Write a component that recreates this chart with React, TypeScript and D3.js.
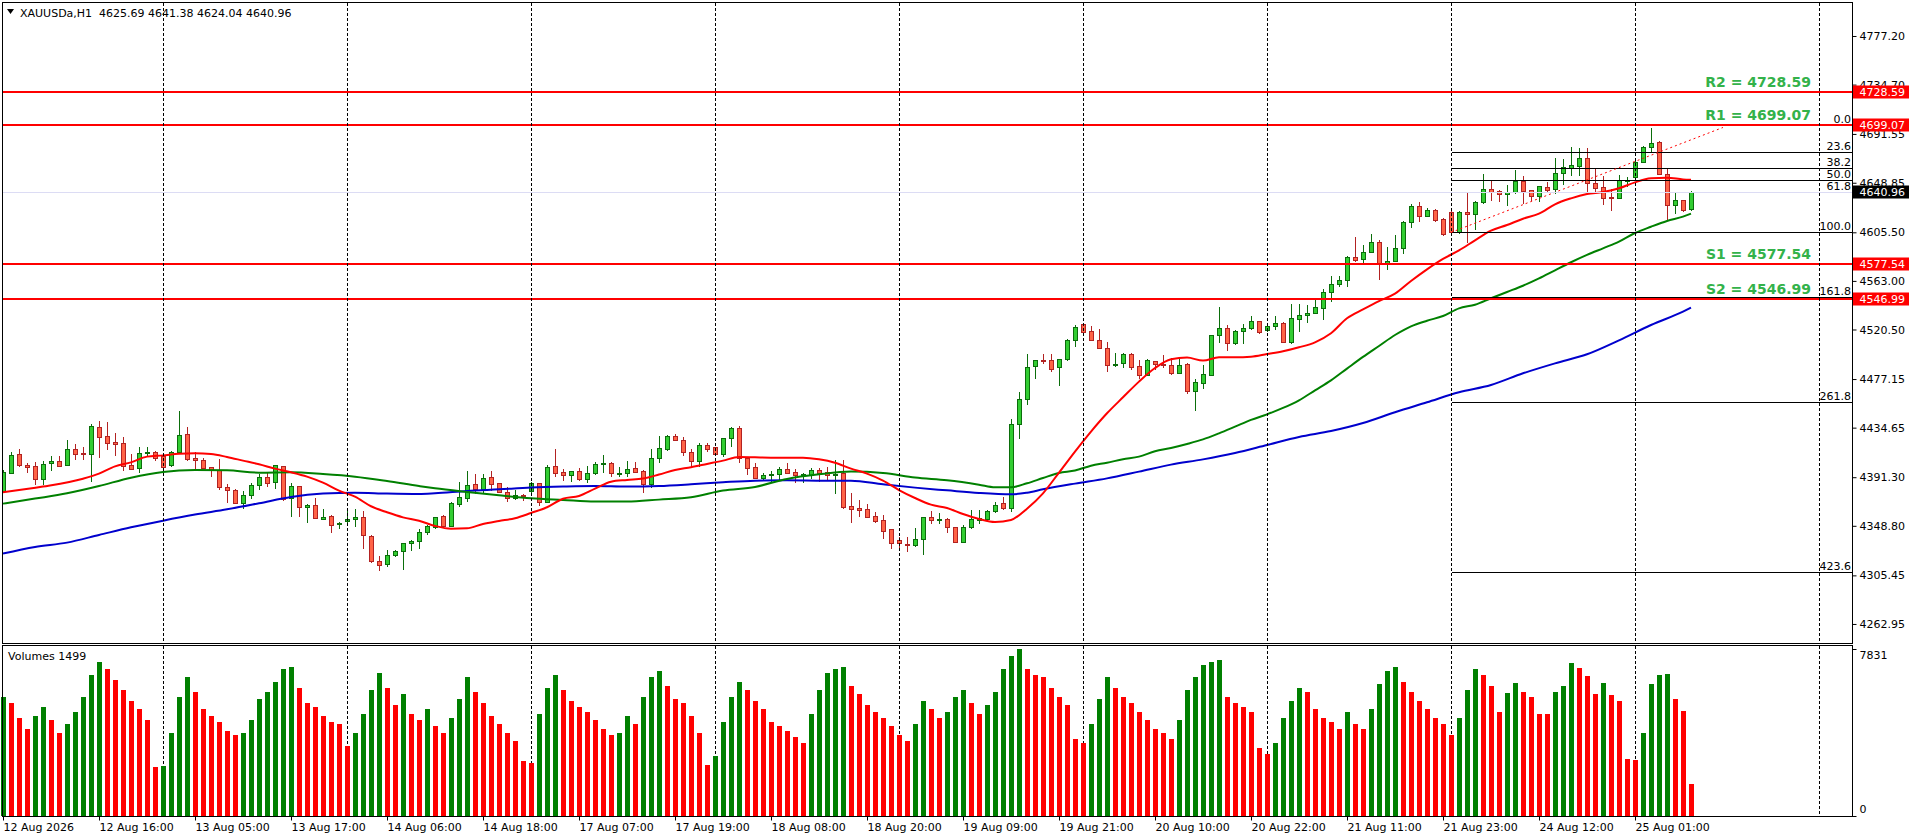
import { useRef, useEffect } from 'react';
import * as d3 from 'd3';

// XAUUSDa H1 bars, oldest first
const opens = [
  4379.6, 4395.3, 4411.6, 4402.0, 4401.1, 4390.0, 4403.5, 4405.5, 4401.7, 4416.0,
  4412.8, 4411.9, 4434.9, 4427.4, 4422.1, 4421.0, 4402.0, 4399.1, 4412.2, 4413.7,
  4409.9, 4401.7, 4413.7, 4428.8, 4407.8, 4406.1, 4400.0, 4397.3, 4382.5, 4380.1,
  4369.1, 4375.5, 4384.2, 4391.2, 4386.8, 4400.8, 4372.9, 4383.3, 4365.0, 4366.7,
  4355.1, 4357.4, 4350.1, 4352.7, 4354.5, 4356.2, 4339.9, 4317.8, 4315.1, 4323.0,
  4326.5, 4333.5, 4335.2, 4343.1, 4348.1, 4357.1, 4349.0, 4368.2, 4373.4, 4385.1,
  4381.3, 4391.2, 4386.0, 4378.1, 4372.9, 4375.8, 4379.6, 4386.0, 4369.9, 4400.8,
  4395.9, 4393.6, 4396.8, 4390.1, 4394.7, 4402.6, 4403.8, 4394.7, 4395.3, 4399.1,
  4396.8, 4385.1, 4408.4, 4416.3, 4427.1, 4423.6, 4413.1, 4405.8, 4419.5, 4417.5,
  4411.3, 4425.3, 4434.1, 4407.8, 4400.0, 4390.9, 4393.0, 4393.8, 4398.2, 4395.9,
  4393.3, 4393.0, 4397.3, 4395.6, 4393.0, 4394.7, 4366.1, 4364.4, 4363.2, 4357.4,
  4353.9, 4345.7, 4336.4, 4332.9, 4332.3, 4337.6, 4356.2, 4354.5, 4355.1, 4347.5,
  4335.0, 4347.5, 4353.9, 4355.1, 4361.5, 4368.5, 4364.1, 4437.6, 4459.4, 4488.3,
  4494.1, 4493.5, 4487.4, 4494.4, 4511.0, 4525.3, 4518.9, 4511.0, 4504.0, 4489.2,
  4490.9, 4499.1, 4488.6, 4481.0, 4492.7, 4490.0, 4489.5, 4482.2, 4490.3, 4466.4,
  4474.0, 4481.0, 4515.4, 4521.5, 4509.0, 4518.9, 4521.5, 4527.7, 4519.8, 4523.3,
  4525.9, 4509.9, 4530.0, 4533.0, 4535.2, 4539.6, 4553.0, 4560.3, 4563.5, 4583.6,
  4581.9, 4588.0, 4597.3, 4578.1, 4580.4, 4591.5, 4614.2, 4628.5, 4620.1, 4624.7,
  4617.1, 4623.6, 4605.5, 4623.6, 4621.2, 4631.7, 4643.4, 4641.3, 4638.7, 4640.5,
  4650.4, 4642.2, 4637.0, 4645.1, 4643.4, 4657.1, 4661.5, 4663.8, 4670.8, 4648.4,
  4645.1, 4636.7, 4635.8, 4650.7, 4653.9, 4666.7, 4679.8, 4684.2, 4656.8, 4629.1,
  4633.5, 4625.69,
];

const highs = [
  4397.5, 4413.7, 4415.7, 4404.0, 4404.6, 4405.8, 4409.9, 4409.9, 4423.9, 4420.4,
  4418.0, 4437.9, 4440.5, 4439.6, 4430.3, 4426.5, 4411.6, 4418.0, 4417.5, 4414.5,
  4411.6, 4414.5, 4449.2, 4434.9, 4413.7, 4407.8, 4400.5, 4407.0, 4385.4, 4380.7,
  4379.6, 4386.6, 4394.1, 4395.3, 4402.3, 4401.1, 4386.6, 4383.6, 4367.9, 4372.9,
  4363.5, 4358.3, 4351.8, 4362.1, 4363.2, 4361.5, 4340.5, 4322.4, 4327.7, 4327.7,
  4334.1, 4336.4, 4345.7, 4349.8, 4356.8, 4358.0, 4369.7, 4387.1, 4396.8, 4393.8,
  4394.1, 4396.8, 4386.6, 4382.5, 4380.1, 4376.6, 4387.1, 4386.6, 4402.0, 4416.0,
  4398.2, 4397.1, 4399.1, 4401.1, 4404.9, 4410.5, 4404.9, 4400.0, 4405.5, 4404.6,
  4397.6, 4416.0, 4427.4, 4428.3, 4429.1, 4426.2, 4415.7, 4421.5, 4421.0, 4418.0,
  4425.9, 4435.5, 4436.1, 4409.3, 4403.5, 4394.7, 4397.1, 4400.6, 4403.5, 4398.2,
  4395.3, 4399.1, 4399.1, 4400.0, 4406.4, 4406.4, 4377.2, 4371.4, 4367.9, 4360.9,
  4358.3, 4346.3, 4338.7, 4338.7, 4346.6, 4356.8, 4362.1, 4359.7, 4355.4, 4348.1,
  4349.2, 4362.6, 4362.6, 4362.6, 4369.6, 4373.7, 4441.9, 4465.6, 4499.1, 4493.8,
  4499.1, 4499.1, 4495.0, 4511.9, 4524.5, 4525.9, 4523.6, 4520.7, 4509.6, 4500.3,
  4500.3, 4499.7, 4493.8, 4495.0, 4493.3, 4498.2, 4495.3, 4495.0, 4490.9, 4476.9,
  4489.5, 4516.0, 4540.5, 4524.5, 4520.1, 4525.3, 4532.3, 4528.2, 4524.5, 4532.3,
  4526.8, 4542.5, 4542.5, 4541.9, 4547.8, 4555.9, 4567.0, 4567.0, 4585.1, 4601.1,
  4594.4, 4604.3, 4598.5, 4592.7, 4603.2, 4615.4, 4630.0, 4631.7, 4626.5, 4625.9,
  4617.7, 4624.2, 4624.2, 4640.5, 4632.9, 4656.2, 4651.0, 4642.5, 4646.9, 4660.0,
  4654.5, 4642.5, 4646.3, 4649.8, 4670.2, 4669.6, 4679.8, 4679.0, 4679.3, 4662.1,
  4654.5, 4643.4, 4655.6, 4653.9, 4670.2, 4681.3, 4697.0, 4685.4, 4660.9, 4640.5,
  4634.1, 4641.38,
];

const lows = [
  4377.5, 4394.1, 4400.0, 4394.7, 4384.8, 4384.8, 4397.0, 4400.5, 4401.1, 4406.4,
  4406.4, 4387.4, 4407.8, 4415.1, 4409.9, 4396.5, 4397.6, 4395.3, 4409.3, 4405.8,
  4396.2, 4400.5, 4411.6, 4405.8, 4398.2, 4398.2, 4391.2, 4380.1, 4368.5, 4368.5,
  4363.2, 4372.6, 4380.1, 4382.5, 4380.7, 4370.8, 4356.8, 4356.8, 4351.0, 4355.1,
  4353.9, 4342.8, 4346.3, 4351.6, 4348.1, 4328.8, 4316.0, 4309.6, 4313.1, 4321.8,
  4310.2, 4327.1, 4328.8, 4341.1, 4345.7, 4347.5, 4348.1, 4365.6, 4369.9, 4376.6,
  4377.2, 4379.6, 4377.2, 4369.7, 4371.4, 4370.8, 4377.2, 4366.4, 4368.5, 4391.8,
  4388.3, 4387.4, 4388.3, 4386.6, 4393.0, 4395.3, 4391.8, 4391.8, 4391.8, 4394.7,
  4377.2, 4381.6, 4403.5, 4414.5, 4423.0, 4410.2, 4399.1, 4400.6, 4413.7, 4410.2,
  4409.3, 4418.0, 4403.5, 4393.3, 4390.3, 4388.9, 4386.6, 4388.9, 4394.1, 4386.0,
  4386.6, 4389.5, 4387.4, 4388.9, 4376.6, 4363.2, 4351.0, 4356.8, 4355.4, 4351.6,
  4337.6, 4328.3, 4327.1, 4326.2, 4330.6, 4323.3, 4350.4, 4350.4, 4342.2, 4334.1,
  4334.1, 4345.7, 4350.4, 4354.5, 4359.7, 4362.6, 4361.2, 4424.5, 4454.8, 4477.5,
  4490.3, 4483.6, 4471.4, 4493.3, 4504.9, 4515.7, 4510.7, 4503.7, 4483.6, 4488.0,
  4486.8, 4485.1, 4476.9, 4480.4, 4485.1, 4486.6, 4481.0, 4481.6, 4464.1, 4449.5,
  4468.8, 4479.8, 4509.0, 4502.0, 4507.2, 4507.8, 4520.1, 4516.6, 4518.6, 4520.1,
  4509.0, 4507.5, 4518.0, 4525.9, 4533.8, 4529.1, 4544.9, 4558.0, 4558.0, 4579.8,
  4577.5, 4587.1, 4563.5, 4572.8, 4579.3, 4586.8, 4609.0, 4614.8, 4618.9, 4614.2,
  4602.6, 4604.6, 4604.3, 4595.9, 4607.5, 4630.5, 4632.9, 4632.3, 4628.8, 4639.3,
  4630.0, 4632.9, 4632.3, 4640.5, 4638.7, 4646.9, 4655.1, 4655.1, 4640.5, 4640.5,
  4629.4, 4624.2, 4634.6, 4645.4, 4652.1, 4666.1, 4674.6, 4655.6, 4615.4, 4621.2,
  4622.9, 4624.04,
];

const closes = [
  4396.2, 4410.7, 4401.7, 4400.5, 4390.0, 4402.9, 4405.5, 4401.4, 4415.7, 4411.9,
  4412.2, 4436.1, 4426.8, 4421.5, 4420.1, 4401.1, 4398.8, 4412.2, 4413.4, 4407.8,
  4400.5, 4413.7, 4427.9, 4407.5, 4406.7, 4399.7, 4397.3, 4382.5, 4379.8, 4369.1,
  4375.5, 4384.2, 4391.2, 4386.6, 4401.7, 4372.6, 4383.3, 4365.0, 4366.7, 4355.4,
  4356.5, 4349.2, 4351.3, 4354.8, 4356.5, 4340.5, 4317.8, 4314.8, 4323.0, 4326.5,
  4333.5, 4335.5, 4343.1, 4348.7, 4356.2, 4349.0, 4368.5, 4373.7, 4384.2, 4381.3,
  4390.9, 4385.7, 4378.1, 4372.9, 4375.5, 4374.9, 4386.0, 4369.9, 4400.0, 4395.3,
  4393.0, 4396.5, 4390.1, 4394.7, 4402.9, 4403.8, 4394.7, 4395.3, 4398.5, 4395.9,
  4385.1, 4407.8, 4416.6, 4427.1, 4423.6, 4413.4, 4405.8, 4419.5, 4415.7, 4411.3,
  4425.3, 4434.1, 4407.8, 4399.1, 4390.9, 4393.0, 4393.8, 4398.2, 4395.3, 4393.0,
  4393.8, 4397.3, 4395.3, 4393.0, 4393.8, 4365.6, 4363.8, 4362.6, 4356.8, 4353.3,
  4344.6, 4333.5, 4333.5, 4332.3, 4337.0, 4356.2, 4353.9, 4355.1, 4348.1, 4335.0,
  4347.5, 4354.5, 4355.4, 4361.5, 4366.7, 4364.4, 4437.6, 4459.4, 4487.4, 4493.5,
  4493.5, 4486.3, 4494.4, 4511.0, 4522.4, 4518.6, 4511.0, 4504.0, 4489.2, 4490.3,
  4499.1, 4488.0, 4481.0, 4493.8, 4490.0, 4489.5, 4482.2, 4489.2, 4466.4, 4474.6,
  4481.6, 4515.4, 4521.5, 4509.0, 4518.9, 4521.5, 4527.7, 4518.6, 4523.3, 4526.2,
  4509.9, 4530.3, 4533.2, 4534.9, 4539.9, 4553.0, 4560.0, 4563.5, 4583.6, 4581.6,
  4588.0, 4596.8, 4578.1, 4580.4, 4591.5, 4614.2, 4628.5, 4620.1, 4624.7, 4616.3,
  4603.7, 4605.5, 4623.6, 4621.2, 4631.7, 4643.1, 4641.1, 4638.7, 4640.5, 4650.4,
  4641.6, 4637.0, 4645.7, 4642.8, 4657.1, 4662.6, 4664.4, 4670.8, 4648.4, 4644.6,
  4635.8, 4635.8, 4651.0, 4651.3, 4666.7, 4679.8, 4683.3, 4656.8, 4629.1, 4633.5,
  4625.3, 4640.96,
];

const volumes = [
  5600, 5300, 4600, 4100, 4700, 5100, 4500, 3900, 4300, 4900,
  5600, 6600, 7200, 6900, 6400, 5900, 5400, 5000, 4500, 2300,
  2350, 3900, 5600, 6500, 5800, 5000, 4700, 4400, 4000, 3800,
  3900, 4500, 5500, 5800, 6300, 6900, 7000, 6000, 5300, 5100,
  4700, 4400, 4300, 3300, 3900, 4800, 5900, 6700, 6000, 5200,
  5700, 4800, 4500, 5000, 4200, 3900, 4600, 5500, 6500, 5800,
  5300, 4700, 4300, 3900, 3500, 2600, 2500, 4800, 6000, 6600,
  5900, 5400, 5100, 4900, 4500, 4100, 3800, 3900, 4700, 4300,
  5600, 6500, 6800, 6100, 5500, 5300, 4700, 3900, 2400, 2800,
  4400, 5600, 6300, 5900, 5400, 5000, 4400, 4200, 4000, 3700,
  3400, 4800, 5900, 6700, 6900, 7000, 6100, 5700, 5200, 4900,
  4600, 4200, 3800, 3500, 4300, 5400, 5000, 4600, 4900, 5600,
  5900, 5300, 4800, 5200, 5800, 6900, 7500, 7831, 6900, 6600,
  6500, 6000, 5600, 5200, 3600, 3400, 4300, 5500, 6500, 6000,
  5600, 5300, 4900, 4500, 4100, 3900, 3600, 4500, 5900, 6500,
  7100, 7200, 7300, 5600, 5300, 5100, 4900, 3200, 2900, 3400,
  4600, 5400, 6000, 5800, 5000, 4600, 4400, 4100, 4900, 4300,
  4100, 5000, 6200, 6800, 7000, 6300, 5800, 5400, 5000, 4600,
  4300, 3800, 4600, 5900, 6900, 6600, 6100, 4860, 5750, 6230,
  5820, 5570, 4760, 4760, 5800, 6090, 7170, 6930, 6560, 5710,
  6230, 5660, 5380, 2690, 2640, 3900, 6180, 6600, 6650, 5500,
  4910, 1499,
];

// moving averages: [bar, price]
const maRed: [number, number][] = [
  [0, 4378.1], [5, 4383.1], [10, 4390.0], [12, 4394.4], [14, 4400.8], [16, 4404.3], [18, 4409.3],
  [20, 4410.4], [22, 4411.9], [24, 4412.2], [26, 4411.6], [28, 4409.0], [30, 4405.8], [32, 4402.6],
  [34, 4398.8], [36, 4395.6], [38, 4391.8], [40, 4386.5], [42, 4379.5], [44, 4374.3], [46, 4365.9],
  [48, 4360.6], [50, 4356.2], [52, 4353.3], [54, 4348.7], [56, 4346.3], [58, 4346.6], [60, 4350.4],
  [62, 4353.0], [64, 4355.4], [66, 4360.0], [68, 4365.0], [70, 4372.5], [72, 4374.9], [74, 4381.3],
  [76, 4387.4], [78, 4388.9], [80, 4390.1], [82, 4393.6], [84, 4397.6], [86, 4400.0], [88, 4402.9],
  [90, 4405.8], [92, 4409.0], [94, 4408.7], [96, 4408.4], [98, 4408.4], [100, 4408.4], [102, 4407.0],
  [104, 4404.0], [106, 4398.8], [108, 4394.4], [110, 4388.3], [112, 4380.1], [114, 4373.1], [116, 4367.3],
  [118, 4364.4], [120, 4359.1], [122, 4354.8], [124, 4352.1], [126, 4353.9], [128, 4363.8], [130, 4377.2],
  [132, 4395.3], [134, 4413.7], [136, 4431.2], [138, 4447.2], [140, 4461.2], [142, 4474.9], [144, 4486.8],
  [146, 4494.4], [148, 4495.9], [150, 4493.3], [152, 4496.2], [154, 4496.2], [156, 4496.7], [158, 4499.0],
  [160, 4501.4], [162, 4504.9], [164, 4509.3], [166, 4517.2], [168, 4530.3], [170, 4538.1], [172, 4545.4],
  [174, 4551.8], [176, 4562.9], [178, 4573.1], [180, 4582.2], [182, 4589.7], [184, 4598.5], [186, 4606.9],
  [188, 4611.9], [190, 4617.4], [192, 4621.8], [194, 4630.0], [196, 4635.2], [198, 4639.0], [200, 4640.8],
  [202, 4644.0], [204, 4649.2], [206, 4652.7], [208, 4653.3], [210, 4651.8], [211, 4651.5],
];

const maGreen: [number, number][] = [
  [0, 4368.2], [4, 4372.6], [8, 4377.2], [12, 4383.6], [16, 4390.9], [20, 4395.9], [24, 4397.6],
  [28, 4397.3], [32, 4395.3], [36, 4395.6], [40, 4394.1], [44, 4391.8], [48, 4388.0], [52, 4383.6],
  [54, 4381.6], [58, 4378.4], [62, 4375.5], [66, 4372.9], [70, 4371.4], [74, 4370.0], [78, 4370.0],
  [82, 4371.7], [86, 4373.7], [90, 4379.6], [94, 4382.8], [98, 4389.8], [102, 4393.8], [106, 4396.2],
  [110, 4395.0], [114, 4391.0], [118, 4388.6], [122, 4384.8], [124, 4382.5], [126, 4382.5], [128, 4386.0],
  [130, 4390.6], [132, 4395.0], [134, 4397.1], [136, 4401.4], [138, 4404.0], [140, 4407.0], [142, 4409.3],
  [144, 4414.0], [146, 4416.9], [148, 4420.4], [150, 4424.4], [152, 4429.7], [154, 4435.5], [156, 4441.4],
  [158, 4446.3], [160, 4451.9], [162, 4458.6], [164, 4467.3], [166, 4476.0], [168, 4486.3], [170, 4496.5],
  [172, 4506.1], [174, 4515.7], [176, 4523.3], [178, 4528.2], [180, 4532.3], [182, 4539.0], [184, 4542.2],
  [186, 4547.8], [188, 4553.3], [190, 4558.8], [192, 4565.2], [194, 4572.3], [196, 4579.3], [198, 4585.7],
  [200, 4591.5], [202, 4597.3], [204, 4604.9], [206, 4610.4], [208, 4615.4], [210, 4619.2], [211, 4621.8],
];

const maBlue: [number, number][] = [
  [0, 4324.5], [4, 4330.3], [8, 4334.1], [12, 4340.8], [16, 4347.5], [20, 4353.3], [24, 4358.6],
  [28, 4363.2], [32, 4368.5], [36, 4374.0], [40, 4377.0], [44, 4377.8], [48, 4377.0], [52, 4376.6],
  [54, 4377.2], [58, 4379.3], [62, 4380.7], [66, 4382.2], [70, 4383.1], [74, 4383.6], [78, 4383.1],
  [82, 4383.6], [86, 4385.1], [90, 4386.9], [94, 4388.3], [98, 4388.6], [102, 4388.3], [106, 4388.2],
  [110, 4385.1], [114, 4382.2], [118, 4379.8], [122, 4377.5], [126, 4376.3], [128, 4377.8], [130, 4380.7],
  [134, 4385.7], [138, 4390.3], [142, 4396.2], [146, 4402.3], [150, 4406.9], [154, 4412.5], [158, 4419.5],
  [162, 4426.5], [166, 4431.7], [170, 4438.7], [174, 4448.1], [178, 4456.8], [182, 4465.6], [186, 4472.0],
  [190, 4482.2], [194, 4490.9], [198, 4498.8], [202, 4511.0], [206, 4524.4], [210, 4536.1], [211, 4539.6],
];

const timeLabels = [
  '12 Aug 2026', '12 Aug 16:00', '13 Aug 05:00', '13 Aug 17:00', '14 Aug 06:00', '14 Aug 18:00',
  '17 Aug 07:00', '17 Aug 19:00', '18 Aug 08:00', '18 Aug 20:00', '19 Aug 09:00', '19 Aug 21:00',
  '20 Aug 10:00', '20 Aug 22:00', '21 Aug 11:00', '21 Aug 23:00', '24 Aug 12:00', '25 Aug 01:00',
];
const labelStep = 12;
const gridBars = [20, 43, 66, 89, 112, 135, 158, 181, 204, 227];

const priceTicks = [
  4777.20, 4734.70, 4691.55, 4648.85, 4605.50, 4563.00, 4520.50,
  4477.15, 4434.65, 4391.30, 4348.80, 4305.45, 4262.95,
];

const srNames = ['R2', 'R1', 'S1', 'S2'];
const srValues = [4728.59, 4699.07, 4577.54, 4546.99];
const bidPrice = 4640.96;
const volMax = 7831;

const fibLevels = [0, 23.6, 38.2, 50, 61.8, 100, 161.8, 261.8, 423.6];
const fibHigh = 4697.2;
const fibLow = 4605.4;
const fibFrom = 181;
const fibTo = 215;

export default function App() {
  const svgRef = useRef<SVGSVGElement>(null);

  useEffect(() => {
    if (!svgRef.current) return;
    const svg = d3.select(svgRef.current);
    svg.selectAll('*').remove();

    const W = 1916, H = 840;
    const left = 2.5, right = 1852.5, top = 2.5, mainBottom = 643.5;
    const volTop = 645.5, volBottom = 816.5;
    const font = "'DejaVu Sans', Verdana, sans-serif";

    svg.attr('width', W).attr('height', H).attr('viewBox', `0 0 ${W} ${H}`);
    svg.append('rect').attr('width', W).attr('height', H).attr('fill', '#fff');

    const x = d3.scaleLinear().domain([0, 227]).range([3, 1819]);
    const y = d3.scaleLinear().domain([4246.3, 4806.5]).range([643, 2.5]);
    const v = d3.scaleLinear().domain([0, volMax]).range([816, 649]);
    const px = (i: number) => Math.round(x(i)) + 0.5;
    const py = (p: number) => Math.round(y(p)) + 0.5;

    const defs = svg.append('defs');
    defs.append('clipPath').attr('id', 'mainClip').append('rect')
      .attr('x', left).attr('y', top).attr('width', right - left).attr('height', mainBottom - top);

    const main = svg.append('g').attr('clip-path', 'url(#mainClip)');

    // vertical grid
    const grid = svg.append('g').attr('stroke', '#000').attr('stroke-dasharray', '3,2').attr('shape-rendering', 'crispEdges');
    gridBars.forEach((b) => {
      grid.append('line').attr('x1', px(b)).attr('x2', px(b)).attr('y1', top).attr('y2', mainBottom);
      grid.append('line').attr('x1', px(b)).attr('x2', px(b)).attr('y1', volTop).attr('y2', volBottom);
    });

    // bid line
    main.append('line')
      .attr('x1', left).attr('x2', right).attr('y1', py(bidPrice)).attr('y2', py(bidPrice))
      .attr('stroke', '#dcdcf4').attr('shape-rendering', 'crispEdges');

    // candles
    const cg = main.append('g').attr('shape-rendering', 'crispEdges');
    d3.range(opens.length).forEach((i) => {
      const up = closes[i] >= opens[i];
      const cx = px(i);
      const stroke = up ? '#0b6e0b' : '#b22222';
      cg.append('line')
        .attr('x1', cx).attr('x2', cx)
        .attr('y1', y(highs[i])).attr('y2', y(lows[i]))
        .attr('stroke', stroke);
      const yTop = Math.round(y(Math.max(opens[i], closes[i]))) + 0.5;
      const yBot = Math.round(y(Math.min(opens[i], closes[i]))) + 0.5;
      cg.append('rect')
        .attr('x', cx - 2).attr('y', yTop)
        .attr('width', 4).attr('height', Math.max(1, yBot - yTop))
        .attr('fill', up ? '#32cd32' : '#ff6347')
        .attr('stroke', stroke);
    });

    // moving averages
    const maLine = d3.line<[number, number]>()
      .x((d) => x(d[0]))
      .y((d) => y(d[1]))
      .curve(d3.curveMonotoneX);
    [[maBlue, '#0000cd'], [maGreen, '#008000'], [maRed, '#ff0000']].forEach(([data, color]) => {
      main.append('path')
        .datum(data as [number, number][])
        .attr('d', maLine)
        .attr('fill', 'none')
        .attr('stroke', color as string)
        .attr('stroke-width', 2);
    });

    // fibonacci retracement (the 0.0 line sits under R1, so only its label shows)
    const fibPrice = (lvl: number) => fibHigh - (lvl / 100) * (fibHigh - fibLow);
    const fg = main.append('g');
    fibLevels.filter((lvl) => lvl > 0).forEach((lvl) => {
      fg.append('line')
        .attr('x1', px(fibFrom)).attr('x2', right)
        .attr('y1', py(fibPrice(lvl))).attr('y2', py(fibPrice(lvl)))
        .attr('stroke', '#000').attr('shape-rendering', 'crispEdges');
    });
    fg.append('line')
      .attr('x1', x(fibFrom)).attr('y1', y(fibLow))
      .attr('x2', x(fibTo)).attr('y2', y(fibHigh))
      .attr('stroke', '#ff0000').attr('stroke-dasharray', '2,3');

    // support / resistance
    srValues.forEach((val) => {
      main.append('line')
        .attr('x1', left).attr('x2', right)
        .attr('y1', Math.round(y(val))).attr('y2', Math.round(y(val)))
        .attr('stroke', '#ff0000').attr('stroke-width', 2);
    });

    // bid line over the 61.8 level
    main.append('line')
      .attr('x1', px(fibFrom)).attr('x2', right).attr('y1', py(bidPrice)).attr('y2', py(bidPrice))
      .attr('stroke', '#dcdcf4').attr('shape-rendering', 'crispEdges');

    fibLevels.forEach((lvl) => {
      main.append('text')
        .attr('x', 1851).attr('y', y(fibPrice(lvl)) - (lvl === 0 ? 4 : 2))
        .attr('text-anchor', 'end')
        .attr('fill', '#000').style('font', `11px ${font}`)
        .text(lvl.toFixed(1));
    });

    srValues.forEach((val, k) => {
      main.append('text')
        .attr('x', 1811).attr('y', y(val) - 5)
        .attr('text-anchor', 'end')
        .attr('fill', '#33b24a').style('font', `bold 14px ${font}`)
        .text(`${srNames[k]} = ${val.toFixed(2)}`);
    });

    // volumes
    const vg = svg.append('g').attr('shape-rendering', 'crispEdges');
    volumes.forEach((vol, i) => {
      const upv = i === 0 || vol > volumes[i - 1];
      vg.append('rect')
        .attr('x', Math.round(x(i)) - 2).attr('y', v(vol))
        .attr('width', 5).attr('height', 816 - v(vol))
        .attr('fill', upv ? '#008000' : '#ff0000');
    });

    // frames
    const frame = svg.append('g').attr('fill', 'none').attr('stroke', '#000').attr('shape-rendering', 'crispEdges');
    frame.append('rect').attr('x', left).attr('y', top).attr('width', right - left).attr('height', mainBottom - top);
    frame.append('rect').attr('x', left).attr('y', volTop).attr('width', right - left).attr('height', volBottom - volTop);

    // price axis
    svg.append('g')
      .attr('transform', `translate(${right},0)`)
      .call(d3.axisRight(y).tickValues(priceTicks).tickSize(4).tickPadding(3).tickFormat((d) => Number(d).toFixed(2)))
      .call((g) => {
        g.select('.domain').remove();
        g.selectAll('line').attr('stroke', '#000');
        g.selectAll('text').attr('fill', '#000').style('font', `11px ${font}`);
      });

    // highlighted price boxes
    const boxes: [number, string][] = [
      ...srValues.map((val) => [val, '#ff0000'] as [number, string]),
      [bidPrice, '#000000'],
    ];
    boxes.forEach(([val, bg]) => {
      const yy = Math.round(y(val));
      svg.append('rect')
        .attr('x', 1853).attr('y', yy - 6.5).attr('width', 56).attr('height', 13)
        .attr('fill', bg);
      svg.append('text')
        .attr('x', 1859.5).attr('y', yy).attr('dy', '0.36em')
        .attr('fill', '#fff').style('font', `11px ${font}`)
        .text(val.toFixed(2));
    });

    // volume axis
    [[volMax, 655], [0, 809]].forEach(([val, ty]) => {
      svg.append('line')
        .attr('x1', right).attr('x2', right + 4)
        .attr('y1', Math.round(v(val)) + 0.5).attr('y2', Math.round(v(val)) + 0.5)
        .attr('stroke', '#000');
      svg.append('text')
        .attr('x', 1859.5).attr('y', ty).attr('dy', '0.36em')
        .attr('fill', '#000').style('font', `11px ${font}`)
        .text(String(val));
    });

    // time axis
    const labelBars = timeLabels.map((_, k) => k * labelStep);
    svg.append('g')
      .attr('transform', `translate(0,${volBottom})`)
      .call(d3.axisBottom(x).tickValues(labelBars).tickSize(4).tickFormat((_, k) => timeLabels[k]))
      .call((g) => {
        g.select('.domain').remove();
        g.selectAll('line').attr('stroke', '#000');
        g.selectAll('text')
          .attr('text-anchor', 'start').attr('x', 0).attr('y', 7)
          .attr('fill', '#000').style('font', `11px ${font}`);
      });

    // headers
    svg.append('path').attr('d', 'M7,9 L14,9 L10.5,14 Z').attr('fill', '#000');
    svg.append('text')
      .attr('x', 20).attr('y', 16.5)
      .attr('fill', '#000').style('font', `11px ${font}`).style('white-space', 'pre')
      .text('XAUUSDa,H1  4625.69 4641.38 4624.04 4640.96');
    svg.append('text')
      .attr('x', 8).attr('y', 660)
      .attr('fill', '#000').style('font', `11px ${font}`)
      .text(`Volumes ${volumes[volumes.length - 1]}`);
  }, []);

  return (
    <div style={{ position: 'absolute', left: 0, top: 0, width: 1916, height: 840, overflow: 'hidden', background: '#fff' }}>
      <svg ref={svgRef} style={{ display: 'block' }} />
    </div>
  );
}
